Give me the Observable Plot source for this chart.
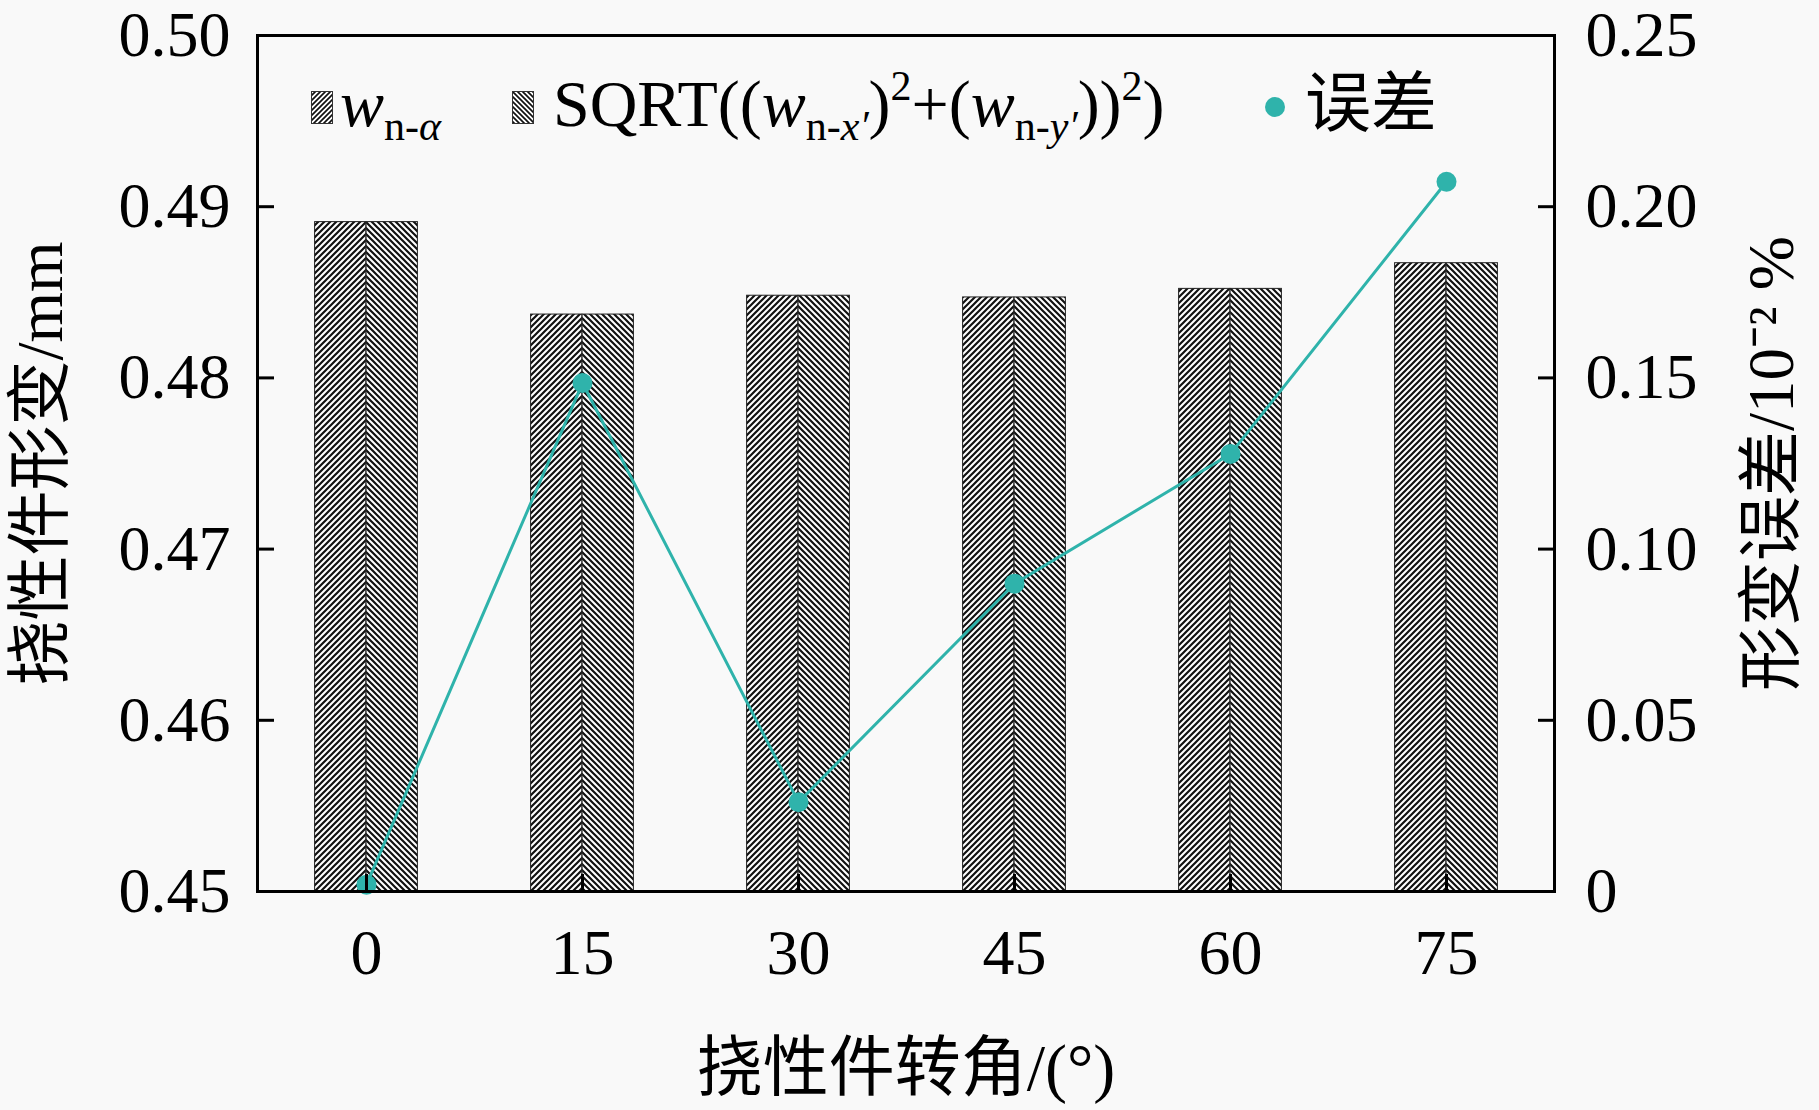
<!DOCTYPE html>
<html><head><meta charset="utf-8">
<script src="https://cdn.jsdelivr.net/npm/d3@7"></script>
<script src="https://cdn.jsdelivr.net/npm/@observablehq/plot@0.6"></script>
<style>
html,body{margin:0;padding:0;background:#f9f9f9;}
#wrap{position:relative;width:1819px;height:1110px;font-family:"Liberation Serif","Noto Sans CJK SC",serif;}
.leg{position:absolute;white-space:nowrap;font-size:66px;line-height:66px;color:#000;}
.leg i{font-style:italic;}
.sw{position:absolute;}
.sb{font-size:42px;position:relative;top:14px;}
.sp{font-size:42px;position:relative;top:-26px;}
</style></head><body><div id="wrap"></div>
<script>
// ---- data ----
const angles = ["0", "15", "30", "45", "60", "75"];
const wAlpha = [0.4891, 0.4837, 0.4848, 0.4847, 0.4852, 0.4867];
const wSqrt  = [0.4891, 0.4837, 0.4848, 0.4847, 0.4852, 0.4867];
const errValues = [0.002, 0.1485, 0.0261, 0.0899, 0.1278, 0.2073];
const leftTicks = [0.45, 0.46, 0.47, 0.48, 0.49, 0.50];
const rightTicks = [0, 0.05, 0.10, 0.15, 0.20, 0.25];
const rightTickLabels = ["0", "0.05", "0.10", "0.15", "0.20", "0.25"];

const yMin = 0.45, yMax = 0.50, rMax = 0.25;
const toLeft = v => yMin + v * (yMax - yMin) / rMax;

const barsA = angles.map((a, i) => ({angle: a, v: wAlpha[i]}));
const barsS = angles.map((a, i) => ({angle: a, v: wSqrt[i]}));
const errs = angles.map((a, i) => ({angle: a, v: toLeft(errValues[i])}));
const rightPos = rightTicks.map(toLeft);

const FONT = '"Liberation Serif","Noto Sans CJK SC",serif';
const TEAL = "#2fb3ab";

const defsMark = () => {
  const g = document.createElementNS("http://www.w3.org/2000/svg", "defs");
  g.innerHTML = `
  <pattern id="hatchL" patternUnits="userSpaceOnUse" width="6" height="6">
    <rect width="6" height="6" fill="#fff"/>
    <path d="M-1,1 l2,-2 M0,6 l6,-6 M5,7 l2,-2" stroke="#111" stroke-width="2.2"/>
  </pattern>
  <pattern id="hatchR" patternUnits="userSpaceOnUse" width="6" height="6">
    <rect width="6" height="6" fill="#fff"/>
    <path d="M-1,5 l2,2 M0,0 l6,6 M5,-1 l2,2" stroke="#111" stroke-width="2.2"/>
  </pattern>`;
  return g;
};

const chart = Plot.plot({
  width: 1819,
  height: 1110,
  marginLeft: 257,
  marginRight: 265,
  marginTop: 35,
  marginBottom: 219,
  style: {fontFamily: FONT, fontSize: "64px", background: "transparent", color: "#000"},
  x: {type: "band", domain: angles, padding: 0, label: null},
  y: {domain: [yMin, yMax], label: null},
  marks: [
    defsMark,
    Plot.barY(barsA, {x: "angle", y1: yMin, y2: "v", fill: "url(#hatchL)", stroke: "#222", strokeWidth: 1, insetLeft: 56.6, insetRight: 108.1}),
    Plot.barY(barsS, {x: "angle", y1: yMin, y2: "v", fill: "url(#hatchR)", stroke: "#222", strokeWidth: 1, insetLeft: 108.1, insetRight: 56.6}),
    Plot.line(errs, {x: "angle", y: "v", stroke: TEAL, strokeWidth: 3}),
    Plot.dot(errs, {x: "angle", y: "v", r: 10, fill: TEAL, stroke: "none", clip: false}),
    Plot.frame({stroke: "#000", strokeWidth: 3}),
    Plot.axisY(leftTicks, {anchor: "left", tickSize: -17, tickPadding: 44, strokeWidth: 3, fontSize: 64, tickFormat: d3.format(".2f"), label: null}),
    Plot.axisY(rightPos, {anchor: "right", tickSize: -17, tickPadding: 48, strokeWidth: 3, fontSize: 64, tickFormat: d => rightTickLabels[rightPos.indexOf(d)], label: null}),
    Plot.axisX({anchor: "bottom", tickSize: -17, tickPadding: 54, strokeWidth: 3, fontSize: 64, label: null}),
    Plot.text(["挠性件转角/(°)"], {frameAnchor: "bottom", textAnchor: "middle", dy: 198, fontSize: 66, fill: "#000"}),
    Plot.text(["挠性件形变/mm"], {frameAnchor: "left", textAnchor: "middle", dx: -216, rotate: -90, fontSize: 65, fill: "#000"}),
    Plot.text(["形变误差/10⁻² %"], {frameAnchor: "right", textAnchor: "middle", dx: 218, rotate: -90, fontSize: 65, fill: "#000"})
  ]
});

const wrap = document.getElementById("wrap");
wrap.appendChild(chart);

function swatch(left, dir) {
  const ns = "http://www.w3.org/2000/svg";
  const s = document.createElementNS(ns, "svg");
  s.setAttribute("width", 22); s.setAttribute("height", 33);
  s.setAttribute("class", "sw");
  s.style.left = left + "px"; s.style.top = "91px";
  const id = "sw" + dir;
  const d = dir === "L" ? "M-1,1 l2,-2 M0,5 l5,-5 M4,6 l2,-2" : "M-1,4 l2,2 M0,0 l5,5 M4,-1 l2,2";
  s.innerHTML = `<defs><pattern id="${id}" patternUnits="userSpaceOnUse" width="5" height="5"><rect width="5" height="5" fill="#fff"/><path d="${d}" stroke="#111" stroke-width="1.7"/></pattern></defs>
  <rect x="0.5" y="0.5" width="21" height="32" fill="url(#${id})" stroke="#333" stroke-width="1"/>`;
  wrap.appendChild(s);
}
swatch(311, "L");
swatch(512, "R");

function legText(left, html) {
  const d = document.createElement("div");
  d.className = "leg";
  d.style.left = left + "px";
  d.style.top = "71px";
  d.innerHTML = html;
  wrap.appendChild(d);
}
legText(340, `<i>w</i><span class="sb">n-<i>α</i></span>`);
legText(553, `SQRT((<i>w</i><span class="sb">n-<i>x′</i></span>)<span class="sp">2</span>+(<i>w</i><span class="sb">n-<i>y′</i></span>))<span class="sp">2</span>)`);
legText(1305, `误差`);

const dot = document.createElement("div");
dot.style.cssText = `position:absolute;left:${1275-10}px;top:${107-10}px;width:20px;height:20px;border-radius:50%;background:${TEAL};`;
wrap.appendChild(dot);
</script></body></html>
